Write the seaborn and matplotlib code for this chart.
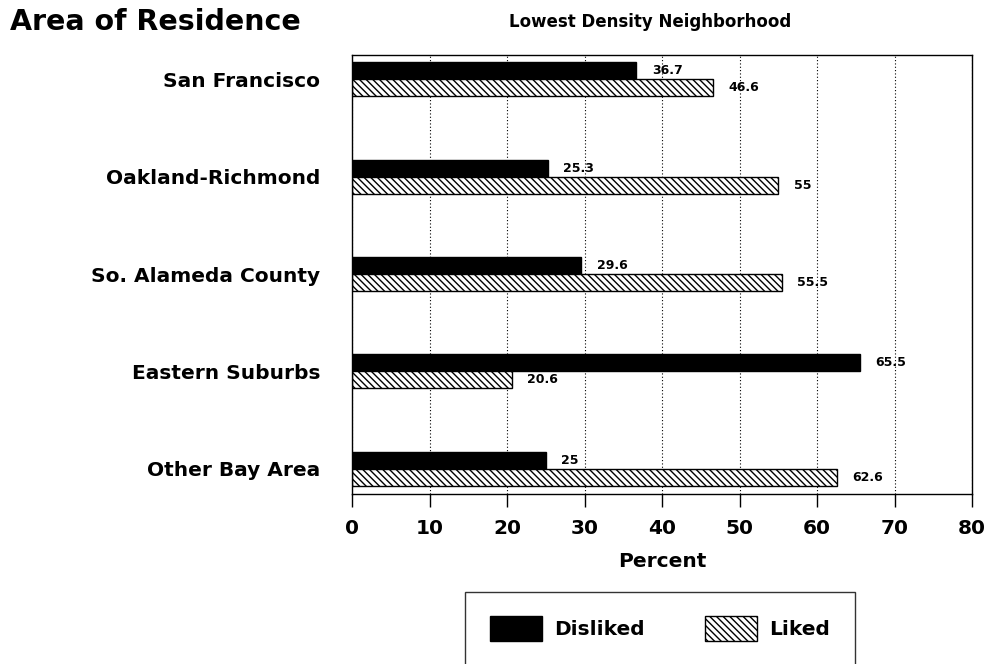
import matplotlib
matplotlib.use("Agg")
import matplotlib.pyplot as plt
import seaborn as sns
import pandas as pd

# Data
areas = ["San Francisco", "Oakland-Richmond", "So. Alameda County", "Eastern Suburbs", "Other Bay Area"]
disliked = [36.7, 25.3, 29.6, 65.5, 25]
liked = [46.6, 55, 55.5, 20.6, 62.6]
x_ticks = [0, 10, 20, 30, 40, 50, 60, 70, 80]

df = pd.DataFrame({
    "area": areas * 2,
    "pct": disliked + liked,
    "group": ["Disliked"] * len(areas) + ["Liked"] * len(areas),
})

sns.set_style("white")
plt.rcParams["font.family"] = ["DejaVu Sans"]
plt.rcParams["font.weight"] = "bold"
plt.rcParams["hatch.linewidth"] = 1.0
for k in ["text.color", "axes.labelcolor", "xtick.color", "ytick.color"]:
    plt.rcParams[k] = "black"

fig = plt.figure(figsize=(9.91, 6.64), dpi=100)
ax = fig.add_axes([352 / 991, 1 - 494 / 664, 620 / 991, 439 / 664])

sns.barplot(data=df, y="area", x="pct", hue="group", order=areas,
            palette={"Disliked": "black", "Liked": "white"},
            width=0.35, orient="h", ax=ax, legend=True,
            edgecolor="black", linewidth=1.0, saturation=1)

hatch = "\\\\\\\\\\"
# hatch the Liked bars
n = len(areas)
for p in ax.patches[n:2 * n]:
    p.set_hatch(hatch)

# value labels
vals = disliked + liked
for i, p in enumerate(ax.patches[:2 * n]):
    y = p.get_y() + p.get_height() / 2
    ax.annotate(f"{vals[i]:g}", xy=(p.get_width(), y), xytext=(11, 0),
                textcoords="offset points", va="center", ha="left",
                fontsize=9, fontweight="bold")

ax.set_xlim(0, 80)
ax.set_ylim(4.26, -0.25)
ax.set_xticks(x_ticks)
ax.set_xticklabels([str(t) for t in x_ticks], fontsize=14.5)
ax.tick_params(axis="y", length=0, labelsize=14.5, pad=23)
ax.tick_params(axis="x", length=9, width=1.0, direction="out", pad=9, bottom=True)
for lab in ax.get_yticklabels():
    lab.set_fontweight("bold")
ax.xaxis.grid(True, linestyle=(0, (1, 2)), color="black", linewidth=0.8)
ax.set_axisbelow(True)
for s in ax.spines.values():
    s.set_visible(True)
    s.set_color("black")
    s.set_linewidth(1.0)
ax.set_ylabel("")
ax.set_xlabel("Percent", fontsize=14.5, fontweight="bold", labelpad=10)

handles, labels = ax.get_legend_handles_labels()
ax.get_legend().remove()
handles[1].set_hatch(hatch)
leg = fig.legend(handles, labels, loc="upper center", bbox_to_anchor=(660 / 991, 1 - 592 / 664),
                 ncol=2, frameon=True, fancybox=False, edgecolor="black",
                 fontsize=14.5, handlelength=2.6, handleheight=1.5, columnspacing=3.0,
                 borderpad=1.2, borderaxespad=0, handletextpad=0.6)
leg.get_frame().set_linewidth(1.0)

fig.text(10 / 991, 1 - 22 / 664, "Area of Residence", fontsize=20.5, fontweight="bold",
         va="center", ha="left")
fig.text(650 / 991, 1 - 22 / 664, "Lowest Density Neighborhood", fontsize=12,
         fontweight="bold", va="center", ha="center")

fig.savefig("out.png", dpi=100)
